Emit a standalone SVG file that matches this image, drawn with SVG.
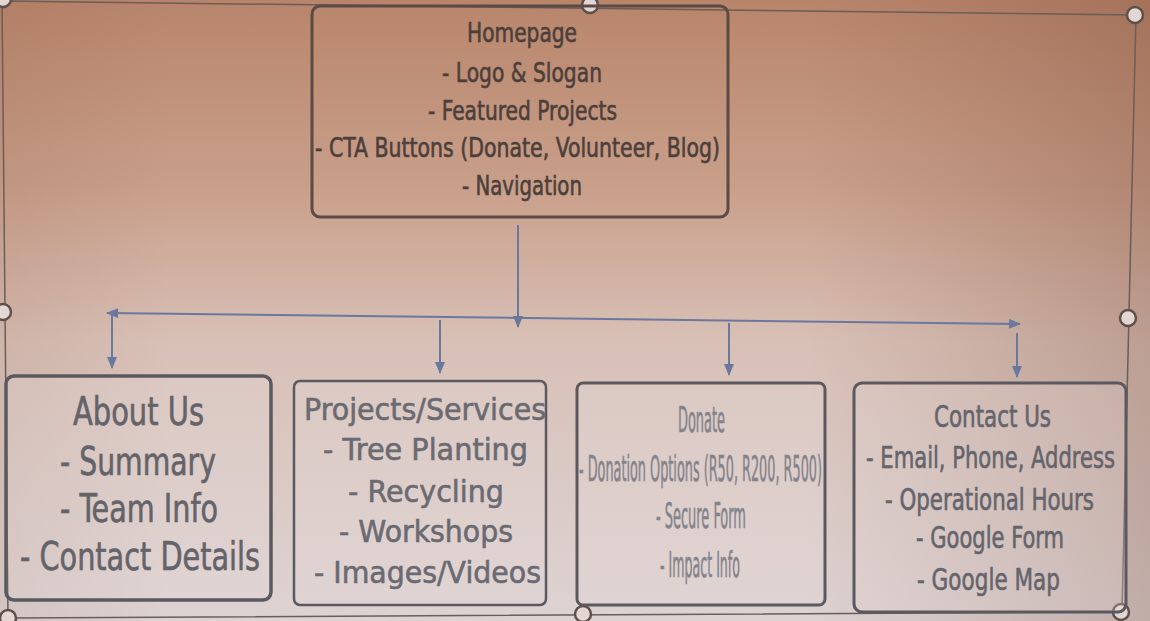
<svg xmlns="http://www.w3.org/2000/svg" width="1150" height="621" viewBox="0 0 1150 621">
  <defs>
    <linearGradient id="bgV" x1="0" y1="0" x2="0" y2="1">
      <stop offset="0" stop-color="#b8856b"/>
      <stop offset="0.3" stop-color="#c99f8a"/>
      <stop offset="0.55" stop-color="#d8c0b6"/>
      <stop offset="1" stop-color="#ddd3d3"/>
    </linearGradient>
    <linearGradient id="bgH" x1="0" y1="0" x2="1" y2="0">
      <stop offset="0" stop-color="#7a4a35" stop-opacity="0.1"/>
      <stop offset="0.15" stop-color="#7a4a35" stop-opacity="0"/>
      <stop offset="0.7" stop-color="#7a4a35" stop-opacity="0"/>
      <stop offset="1" stop-color="#6a3a28" stop-opacity="0.25"/>
    </linearGradient>
    <marker id="arrow" viewBox="0 0 12 10" refX="11" refY="5" markerWidth="12" markerHeight="10" markerUnits="userSpaceOnUse" orient="auto-start-reverse">
      <path d="M0,0 L12,5 L0,10 z" fill="#6b789e"/>
    </marker>
    <style>
      .box { fill: #e6dcdc; fill-opacity: 0.25; stroke: #5a595f; stroke-width: 3; }
      .home { fill: none; stroke: #5b4a45; stroke-width: 3; }
      .conn { fill: none; stroke: #6b789e; stroke-width: 2; marker-end: url(#arrow); }
      .sel { fill: none; stroke: #6b5d58; stroke-width: 1.5; }
      .handle { fill: #e4d6d2; stroke: #5e504b; stroke-width: 2.5; }
      .t { font-family: "DejaVu Sans Condensed", "DejaVu Sans", sans-serif; stroke-width: 0.6; }
      .th { fill: #4c3f3b; stroke: #4c3f3b; font-size: 27px; }
      .ta { fill: #636369; stroke: #636369; font-size: 39px; }
      .tp { fill: #6a6a72; stroke: #6a6a72; font-size: 30px; font-family: "DejaVu Sans", sans-serif; }
      .td { fill: #84838b; stroke: #84838b; font-size: 36px; }
      .tc { fill: #64646c; stroke: #64646c; font-size: 31px; }
    </style>
  </defs>

  <rect x="0" y="0" width="1150" height="621" fill="url(#bgV)"/>
  <rect x="0" y="0" width="1150" height="621" fill="url(#bgH)"/>

  <!-- selection frame -->
  <g id="selection">
    <path class="sel" d="M2,1 L1136,15 L1122,612 L8,618 Z"/>
    <circle class="handle" cx="3" cy="-1" r="8"/>
    <circle class="handle" cx="590" cy="5" r="8"/>
    <circle class="handle" cx="1135" cy="15" r="8"/>
    <circle class="handle" cx="3" cy="312" r="8"/>
    <circle class="handle" cx="1128" cy="318" r="8"/>
    <circle class="handle" cx="8" cy="618" r="8"/>
    <circle class="handle" cx="583" cy="614" r="8"/>
    <circle class="handle" cx="1121" cy="612" r="8"/>
  </g>

  <g id="connectors">
    <line class="conn" x1="518" y1="225" x2="518" y2="327"/>
    <path class="conn" style="marker-start:url(#arrow)" d="M107,313 L1020,324"/>
    <line class="conn" x1="112" y1="314" x2="112" y2="368"/>
    <line class="conn" x1="440" y1="320" x2="440" y2="373"/>
    <line class="conn" x1="729" y1="323" x2="729" y2="375"/>
    <line class="conn" x1="1017" y1="333" x2="1017" y2="377"/>
  </g>

  <g id="homepage">
    <rect class="home" x="312" y="6" width="416" height="211" rx="8"/>
    <text class="t th" x="467" y="42" textLength="110" lengthAdjust="spacingAndGlyphs">Homepage</text>
    <text class="t th" x="442" y="82" textLength="160" lengthAdjust="spacingAndGlyphs">- Logo &amp; Slogan</text>
    <text class="t th" x="428" y="120" textLength="189" lengthAdjust="spacingAndGlyphs">- Featured Projects</text>
    <text class="t th" x="315" y="157" textLength="405" lengthAdjust="spacingAndGlyphs">- CTA Buttons (Donate, Volunteer, Blog)</text>
    <text class="t th" x="462" y="195" textLength="120" lengthAdjust="spacingAndGlyphs">- Navigation</text>
  </g>

  <g id="about">
    <rect class="box" x="6" y="376" width="265" height="224" rx="8" style="stroke-width:3.5"/>
    <text class="t ta" x="73" y="425" textLength="131" lengthAdjust="spacingAndGlyphs">About Us</text>
    <text class="t ta" x="60" y="475" textLength="156" lengthAdjust="spacingAndGlyphs">- Summary</text>
    <text class="t ta" x="60" y="522" textLength="158" lengthAdjust="spacingAndGlyphs">- Team Info</text>
    <text class="t ta" x="20" y="570" textLength="240" lengthAdjust="spacingAndGlyphs">- Contact Details</text>
  </g>

  <g id="projects">
    <rect class="box" x="294" y="381" width="252" height="224" rx="6" style="stroke-width:2.5"/>
    <text class="t tp" x="304" y="420" textLength="242" lengthAdjust="spacingAndGlyphs">Projects/Services</text>
    <text class="t tp" x="323" y="460" textLength="205" lengthAdjust="spacingAndGlyphs">- Tree Planting</text>
    <text class="t tp" x="348" y="502" textLength="156" lengthAdjust="spacingAndGlyphs">- Recycling</text>
    <text class="t tp" x="339" y="542" textLength="174" lengthAdjust="spacingAndGlyphs">- Workshops</text>
    <text class="t tp" x="314" y="583" textLength="227" lengthAdjust="spacingAndGlyphs">- Images/Videos</text>
  </g>

  <g id="donate">
    <rect class="box" x="577" y="383" width="248" height="222" rx="6"/>
    <text class="t td" x="678" y="432" textLength="47" lengthAdjust="spacingAndGlyphs">Donate</text>
    <text class="t td" x="579" y="481" textLength="243" lengthAdjust="spacingAndGlyphs">- Donation Options (R50, R200, R500)</text>
    <text class="t td" x="656" y="528" textLength="90" lengthAdjust="spacingAndGlyphs">- Secure Form</text>
    <text class="t td" x="660" y="577" textLength="80" lengthAdjust="spacingAndGlyphs">- Impact Info</text>
  </g>

  <g id="contact">
    <rect class="box" x="854" y="383" width="272" height="229" rx="8"/>
    <text class="t tc" x="934" y="427" textLength="117" lengthAdjust="spacingAndGlyphs">Contact Us</text>
    <text class="t tc" x="866" y="468" textLength="249" lengthAdjust="spacingAndGlyphs">- Email, Phone, Address</text>
    <text class="t tc" x="885" y="510" textLength="209" lengthAdjust="spacingAndGlyphs">- Operational Hours</text>
    <text class="t tc" x="916" y="548" textLength="148" lengthAdjust="spacingAndGlyphs">- Google Form</text>
    <text class="t tc" x="917" y="590" textLength="143" lengthAdjust="spacingAndGlyphs">- Google Map</text>
  </g>
</svg>
